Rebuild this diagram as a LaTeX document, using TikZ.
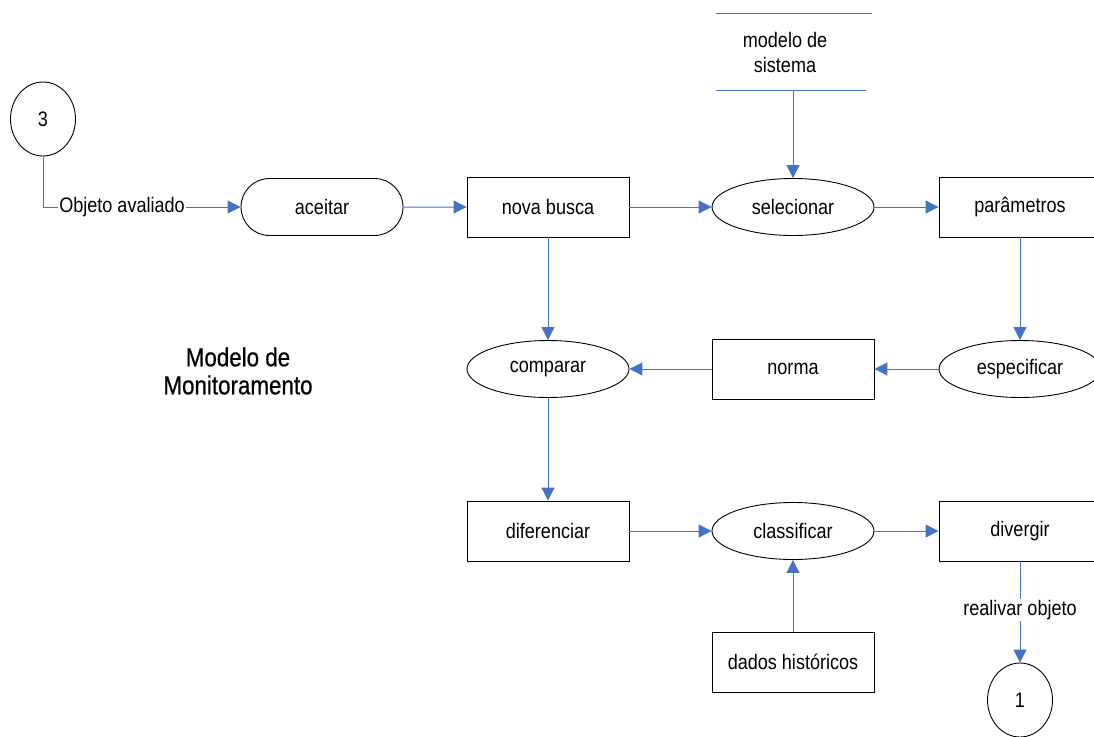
\documentclass[tikz,border=0pt]{standalone}
\usepackage{fontspec}
\setmainfont{Liberation Sans}[FakeStretch=0.86]
\newfontfamily\titlefont{Liberation Sans}[FakeStretch=0.86, FakeBold=0.6]
\usetikzlibrary{arrows.meta,shapes.geometric,shapes.misc}
\definecolor{lineblue}{RGB}{68,114,196}
\tikzset{
  base/.style={draw=black, line width=0.9pt, font=\fontsize{21}{24}\selectfont, inner sep=0pt, align=center},
  procbox/.style={base, rectangle, minimum width=162pt, minimum height=60pt},
  procell/.style={base, ellipse, minimum width=162pt, minimum height=57pt},
  termbox/.style={base, rounded rectangle, minimum width=162pt, minimum height=57pt},
  conn/.style={base, ellipse, minimum width=65pt, minimum height=74pt},
  flow/.style={draw=lineblue, line width=1pt, -{Triangle[length=13pt,width=13pt]}},
  flowlabel/.style={fill=white, inner sep=1pt, font=\fontsize{21}{24}\selectfont},
}
\begin{document}
\begin{tikzpicture}[x=1pt,y=-1pt]
\clip (0,0) rectangle (1094,736);
\fill[white] (0,0) rectangle (1094,736);
% nodes
\node[conn] (c3) at (43,119) {3};
\node[termbox] (aceitar) at (322,207) {aceitar};
\node[procbox] (busca) at (548,207) {nova busca};
\node[procell] (selecionar) at (793,207) {selecionar};
\node[procbox] (parametros) at (1020,207) {parâmetros};
\node[procell] (especificar) at (1020,369) {especificar};
\node[procbox] (norma) at (793,369) {norma};
\node[procell] (comparar) at (548,369) {comparar};
\node[procbox] (diferenciar) at (548,531) {diferenciar};
\node[procell] (classificar) at (793,531) {classificar};
\node[procbox] (divergir) at (1020,531) {divergir};
\node[procbox] (dados) at (793,662) {dados históricos};
\node[conn] (c1) at (1020,700) {1};
% data store
\node[font=\fontsize{21}{25}\selectfont, align=center] (store) at (785,52) {modelo de\\sistema};
\coordinate (storeTL) at (716,13);
\coordinate (storeTR) at (872,13);
\coordinate (storeBL) at (716,90);
\coordinate (storeBR) at (866,90);
\coordinate (storebot) at (793,90);
\draw[lineblue, line width=1pt] (storeTL) -- (storeTR);
\draw[lineblue, line width=1pt] (storeBL) -- (storeBR);
% title
\node[font=\titlefont\fontsize{26}{28}\selectfont, align=center] (title) at (238,371) {Modelo de\\Monitoramento};
% connectors
\draw[flow] (c3.south) |- (aceitar.west) node[flowlabel, pos=0.70] {Objeto avaliado};
\draw[flow] (aceitar) -- (busca);
\draw[flow] (busca) -- (selecionar);
\draw[flow] (storebot) -- (selecionar.north);
\draw[flow] (selecionar) -- (parametros);
\draw[flow] (parametros) -- (especificar);
\draw[flow] (especificar) -- (norma);
\draw[flow] (norma) -- (comparar);
\draw[flow] (busca) -- (comparar);
\draw[flow] (comparar) -- (diferenciar);
\draw[flow] (diferenciar) -- (classificar);
\draw[flow] (classificar) -- (divergir);
\draw[flow] (dados) -- (classificar);
\draw[flow] (divergir.south) -- (c1.north) node[flowlabel, pos=0.48] {realivar objeto};
\end{tikzpicture}
\end{document}
